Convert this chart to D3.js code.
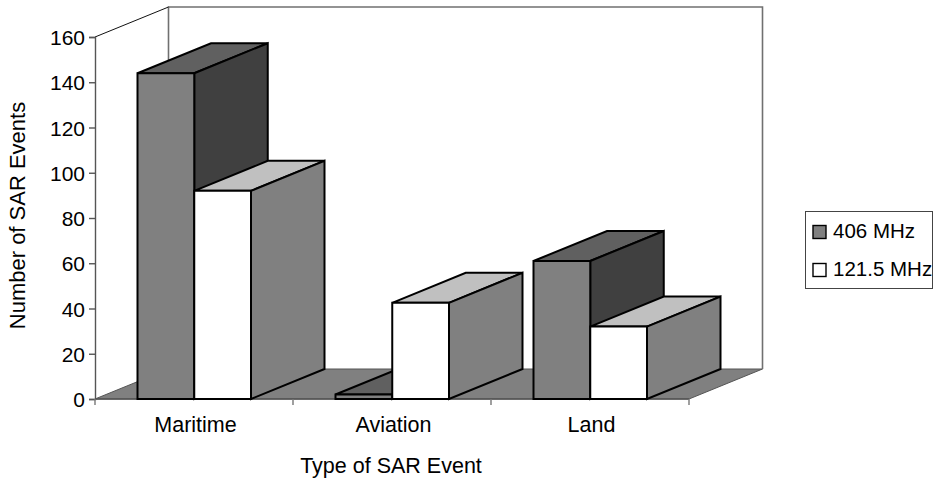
<!DOCTYPE html>
<html><head><meta charset="utf-8">
<script src="https://cdn.jsdelivr.net/npm/d3@7"></script>
<style>html,body{margin:0;padding:0;background:#fff;overflow:hidden}svg{display:block}text{font-family:"Liberation Sans",Arial,sans-serif;fill:#000}</style>
</head><body><svg id="c" width="933" height="481"></svg>
<script>
const categories = ["Maritime","Aviation","Land"];
const seriesNames = ["406 MHz","121.5 MHz"];
const values406 = [144,2,61];
const values1215 = [92,42.5,32];
const yTicks = [0,20,40,60,80,100,120,140,160];

const svg = d3.select("#c");
const dx = 73.5, dy = -30;
const fs = "21px";
const x = d3.scaleBand().domain(categories).range([95,689]);
const y = d3.scaleLinear().domain([0,160]).range([399,37]);
const sub = d3.scaleBand().domain(seriesNames).range([42.5,156]);
const poly = pts => pts.map(p=>p.join(",")).join(" ");
const x0=x.range()[0], x1=x.range()[1], y0=y(0), yT=y(160);

// floor
svg.append("polygon").attr("points",poly([[x0,y0],[x0+dx,y0+dy],[x1+dx,y0+dy],[x1,y0]])).attr("fill","#808080").attr("stroke","#555").attr("stroke-width",1);
// walls
svg.append("path").attr("d",`M${x0+dx},${y0+dy}V${yT+dy}H${x1+dx}V${y0+dy}`).attr("fill","none").attr("stroke","#707070").attr("stroke-width",1.6);
svg.append("line").attr("x1",x0).attr("y1",yT).attr("x2",x0+dx).attr("y2",yT+dy).attr("stroke","#111").attr("stroke-width",1);

// axes
const gy = svg.append("g").attr("transform",`translate(${x0},0)`).call(d3.axisLeft(y).tickValues(yTicks).tickSize(6).tickPadding(4));
gy.selectAll("text").style("font-size",fs).attr("dy","0.36em");
gy.selectAll("line,path").attr("stroke","#555").attr("stroke-width",1.4);
const xEdges = [...categories.map(c=>x(c)), x1];
svg.append("line").attr("x1",x0).attr("x2",x1).attr("y1",y0).attr("y2",y0).attr("stroke","#555").attr("stroke-width",1.4);
svg.selectAll(".xt").data(xEdges).join("line").attr("x1",d=>d).attr("x2",d=>d).attr("y1",y0).attr("y2",y0+6).attr("stroke","#777").attr("stroke-width",1.4);

// bars
const styles = {
  "406 MHz":{front:"#808080",top:"#606060",side:"#404040"},
  "121.5 MHz":{front:"#ffffff",top:"#c0c0c0",side:"#808080"}
};
const series = [values406, values1215];
categories.forEach((c,i)=>{
  seriesNames.forEach((s,k)=>{
    const a = x(c)+sub(s), b = a+sub.bandwidth(), t = y(series[k][i]), st = styles[s];
    const g = svg.append("g").attr("stroke","#000").attr("stroke-width",2).attr("stroke-linejoin","miter");
    g.append("polygon").attr("points",poly([[a,t],[a+dx,t+dy],[b+dx,t+dy],[b,t]])).attr("fill",st.top);
    g.append("polygon").attr("points",poly([[b,t],[b+dx,t+dy],[b+dx,y0+dy],[b,y0]])).attr("fill",st.side);
    g.append("polygon").attr("points",poly([[a,t],[b,t],[b,y0],[a,y0]])).attr("fill",st.front);
  });
});

// category labels
svg.selectAll(".cat").data(categories).join("text").attr("x",d=>x(d)+x.bandwidth()/2+1.5).attr("y",432)
  .attr("text-anchor","middle").style("font-size","21.5px").text(d=>d);
svg.append("text").attr("x",391).attr("y",473).attr("text-anchor","middle").style("font-size","21.5px").text("Type of SAR Event");
svg.append("text").attr("transform","translate(25,215.5) rotate(-90)").attr("text-anchor","middle").style("font-size","22px").text("Number of SAR Events");

// legend
svg.append("rect").attr("x",805.5).attr("y",211.5).attr("width",127).attr("height",77).attr("fill","#fff").attr("stroke","#444").attr("stroke-width",1);
const lg = svg.selectAll(".lg").data(seriesNames).join("g").attr("transform",(d,i)=>`translate(0,${232+i*38})`);
lg.append("rect").attr("x",813).attr("y",-6.5).attr("width",13).attr("height",13).attr("fill",d=>styles[d].front).attr("stroke","#000").attr("stroke-width",1.4);
lg.append("text").attr("x",833).attr("y",5.5).style("font-size","20.5px").text(d=>d);
</script></body></html>
